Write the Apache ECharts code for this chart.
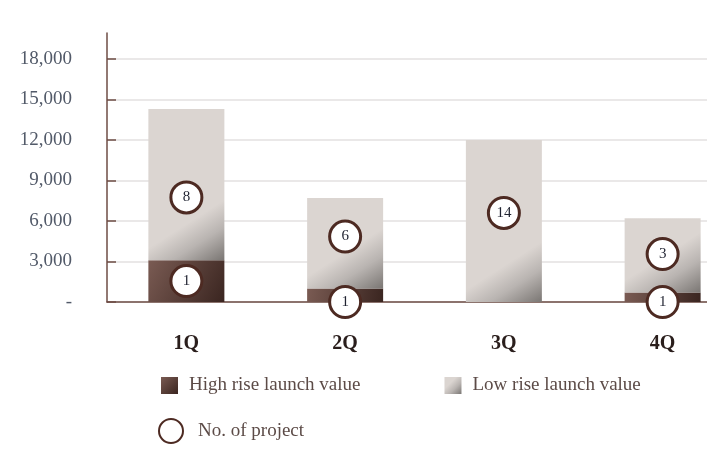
<!DOCTYPE html>
<html>
<head>
<meta charset="utf-8">
<script src="https://cdn.jsdelivr.net/npm/echarts@6/dist/echarts.min.js"></script>
<style>
html, body { margin: 0; padding: 0; background: #ffffff; }
#chart { width: 707px; height: 454px; }
</style>
</head>
<body>
<div id="chart"></div>
<script>
// Quarterly launch values (stacked) and number of projects per segment
const quarters = ['1Q', '2Q', '3Q', '4Q'];
const highRiseValue = [3100, 1000, 0, 700];
const lowRiseValue = [11200, 6700, 12000, 5500];
const highRiseProjects = [1, 1, null, 1];
const lowRiseProjects = [8, 6, 14, 3];
// value at which each project-count marker sits
const highRiseMarkerAt = [1550, 0, null, 0];
const lowRiseMarkerAt = [7750, 4850, 6600, 3550];
const yTickValues = [0, 3000, 6000, 9000, 12000, 15000, 18000];

const serif = '"Liberation Serif", "DejaVu Serif", serif';
const brown = '#6e4c44';

const lowStops = [
  { offset: 0, color: '#dbd5d1' },
  { offset: 0.45, color: '#b9b4b1' },
  { offset: 1, color: '#7a7673' }
];
const highStops = [
  { offset: 0, color: '#7a5b53' },
  { offset: 1, color: '#3a2520' }
];

const markerData = [];
quarters.forEach((q, i) => {
  if (highRiseProjects[i] != null) markerData.push({ value: [i, highRiseMarkerAt[i]], count: highRiseProjects[i] });
  if (lowRiseProjects[i] != null) markerData.push({ value: [i, lowRiseMarkerAt[i]], count: lowRiseProjects[i] });
});

const chart = echarts.init(document.getElementById('chart'));
chart.setOption({
  animation: false,
  backgroundColor: '#ffffff',
  // the plot runs past the right edge, so the last bar sits near the border
  grid: [
    { left: 107, width: 635, top: 59, bottom: 152, outerBoundsMode: 'none', containLabel: false },
    { left: 107, width: 635, top: 33, bottom: 152, outerBoundsMode: 'none', containLabel: false }
  ],
  xAxis: [
    {
      type: 'category', gridIndex: 0, data: quarters,
      axisLine: { show: true, lineStyle: { color: brown, width: 1.5 } },
      axisTick: { show: false },
      axisLabel: { margin: 32, color: '#2a1e1c', fontFamily: serif, fontSize: 20, fontWeight: 'bold' }
    },
    { type: 'category', gridIndex: 1, data: quarters, show: false }
  ],
  yAxis: [
    {
      type: 'value', gridIndex: 0, min: 0, max: yTickValues[yTickValues.length - 1], interval: 3000,
      axisLine: { show: false },
      axisTick: { show: true, inside: true, length: 9, lineStyle: { color: brown, width: 1.5 } },
      splitLine: { show: true, lineStyle: { color: '#e3e1e0', width: 1.5 } },
      axisLabel: {
        margin: 35, color: '#525a69', fontFamily: serif, fontSize: 19,
        formatter: v => v === 0 ? '-' : v.toLocaleString('en-US')
      }
    },
    {
      type: 'value', gridIndex: 1, min: 0, max: 20000,
      axisLine: { show: true, lineStyle: { color: brown, width: 1.5 } },
      axisTick: { show: false }, axisLabel: { show: false }, splitLine: { show: false }
    }
  ],
  legend: [
    {
      left: 161, top: 376, padding: 0, itemWidth: 17, itemHeight: 17, itemGap: 84, icon: 'rect',
      data: ['High rise launch value', 'Low rise launch value'],
      textStyle: { color: '#5c4b47', fontFamily: serif, fontSize: 19, padding: [0, 0, 0, 6] }
    },
    {
      left: 158, top: 418, padding: 0, itemWidth: 24, itemHeight: 24,
      data: [{ name: 'No. of project', icon: 'circle' }],
      textStyle: { color: '#5c4b47', fontFamily: serif, fontSize: 19, padding: [0, 0, 0, 10] }
    }
  ],
  series: [
    {
      name: 'High rise launch value', type: 'bar', stack: 'launch', barWidth: 76,
      data: highRiseValue,
      itemStyle: { color: new echarts.graphic.LinearGradient(0, 0, 1, 1, highStops) }
    },
    {
      name: 'Low rise launch value', type: 'bar', stack: 'launch', barWidth: 76,
      data: lowRiseValue,
      itemStyle: { color: new echarts.graphic.LinearGradient(0.35, 0.35, 1, 1, lowStops) }
    },
    {
      name: 'No. of project', type: 'scatter', symbol: 'circle', symbolSize: 31, z: 5,
      data: markerData,
      itemStyle: { color: '#ffffff', borderColor: '#4d2a22', borderWidth: 3, opacity: 1 },
      label: {
        show: true, position: 'inside', color: '#1f2230', fontFamily: serif, fontSize: 15,
        formatter: p => String(p.data.count)
      }
    }
  ]
});

// Shade each light segment so the darkening falls into its lower-right corner,
// with the same slant whatever the segment's height.
const y0 = chart.convertToPixel({ yAxisIndex: 0 }, 0);
const y1 = chart.convertToPixel({ yAxisIndex: 0 }, 1000);
const pxPerUnit = (y0 - y1) / 1000;
chart.setOption({
  series: [{}, {
    data: lowRiseValue.map(v => {
      const h = Math.max(v * pxPerUnit, 1);
      return {
        value: v,
        itemStyle: { color: new echarts.graphic.LinearGradient(0.64, 1 - 43 / h, 1, 1, lowStops) }
      };
    })
  }]
});
</script>
</body>
</html>
